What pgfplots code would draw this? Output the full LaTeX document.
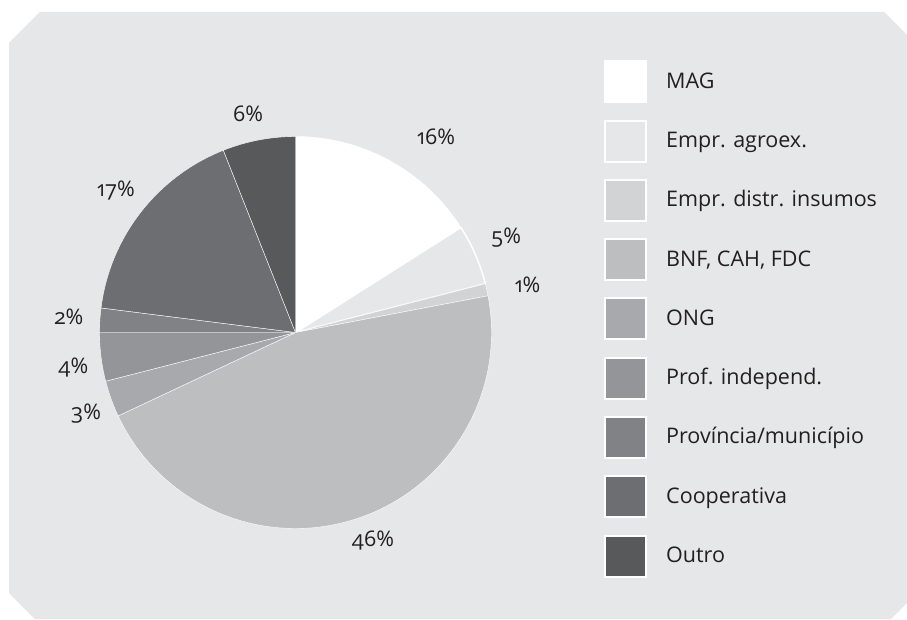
\documentclass[border=0pt]{standalone}
\usepackage{pgfplots}
\pgfplotsset{compat=1.18}
\usepackage{pgfplotstable}
\usepackage{fontspec}
\setmainfont{Open Sans}[Numbers=OldStyle]

\definecolor{bg}{HTML}{E6E7E8}
\definecolor{txt}{HTML}{231F20}
\definecolor{g1}{HTML}{FFFFFF}
\definecolor{g2}{HTML}{E6E7E8}
\definecolor{g3}{HTML}{D1D3D4}
\definecolor{g4}{HTML}{BCBEC0}
\definecolor{g5}{HTML}{A7A9AC}
\definecolor{g6}{HTML}{939598}
\definecolor{g7}{HTML}{808285}
\definecolor{g8}{HTML}{6D6E71}
\definecolor{g9}{HTML}{58595B}

% slices clockwise from 12 o'clock; lx/ly = label position in radius units
\pgfplotstableread[col sep=semicolon]{
name;value;col;lw;lx;ly
MAG;16;g1;0.4;0.717;0.996
Empr. agroex.;5;g2;1.5;1.074;0.493
Empr. distr. insumos;1;g3;0.4;1.184;0.244
BNF, CAH, FDC;46;g4;0.4;0.395;-1.054
ONG;3;g5;0.4;-1.069;-0.406
Prof. independ.;4;g6;0.4;-1.133;-0.169
Província/município;2;g7;0.4;-1.156;0.078
Cooperativa;17;g8;0.4;-0.916;0.732
Outro;6;g9;0.4;-0.242;1.115
}\piedata

\begin{document}
\begin{tikzpicture}[x=1pt,y=1pt]
\useasboundingbox (0,0) rectangle (907,619);
\fill[bg] (9,576) -- (40,607) -- (884,607) -- (907,584) -- (907,16)
  -- (891,0) -- (35,0) -- (9,26) -- cycle;

\begin{axis}[width=392pt, height=392pt, scale only axis, hide axis,
    xmin=-1, xmax=1, ymin=-1, ymax=1, clip=false,
    at={(295.5pt,286.5pt)}, anchor=origin]
  \pgfplotsextra{
    \gdef\cum{90}
    \foreach \i in {0,...,8} {
      \pgfplotstablegetelem{\i}{value}\of\piedata \let\val\pgfplotsretval
      \pgfplotstablegetelem{\i}{col}\of\piedata \let\col\pgfplotsretval
      \pgfplotstablegetelem{\i}{lw}\of\piedata \let\lw\pgfplotsretval
      \pgfmathsetmacro\a{\cum}
      \pgfmathsetmacro\b{\cum-3.6*\val}
      \fill[fill=\col, draw=white, line width=\lw pt, line join=round]
        (axis cs:0,0) -- ++(\a:196pt) arc[start angle=\a, end angle=\b, radius=196pt] -- cycle;
      \xdef\cum{\b}
    }
    \foreach \i in {0,...,8} {
      \pgfplotstablegetelem{\i}{value}\of\piedata \let\val\pgfplotsretval
      \pgfplotstablegetelem{\i}{lx}\of\piedata \let\lx\pgfplotsretval
      \pgfplotstablegetelem{\i}{ly}\of\piedata \let\ly\pgfplotsretval
      \node[anchor=base, yshift=-7.5pt, inner sep=0pt, text=txt,
        font=\fontsize{21.5}{26}\selectfont] at (axis cs:\lx,\ly) {\val\%};
    }
  }
\end{axis}

% legend
\foreach \i in {0,...,8} {
  \pgfplotstablegetelem{\i}{name}\of\piedata \let\nm\pgfplotsretval
  \pgfplotstablegetelem{\i}{col}\of\piedata \let\col\pgfplotsretval
  \pgfmathsetmacro\yc{619-82-59.25*\i}
  \draw[white, line width=2pt, fill=\col] (605,\yc-20.5) rectangle (646,\yc+20.5);
  \node[anchor=base west, inner sep=0pt, text=txt,
    font=\fontsize{21.5}{26}\selectfont] at (666,\yc-6.3) {\nm};
}
\end{tikzpicture}
\end{document}
